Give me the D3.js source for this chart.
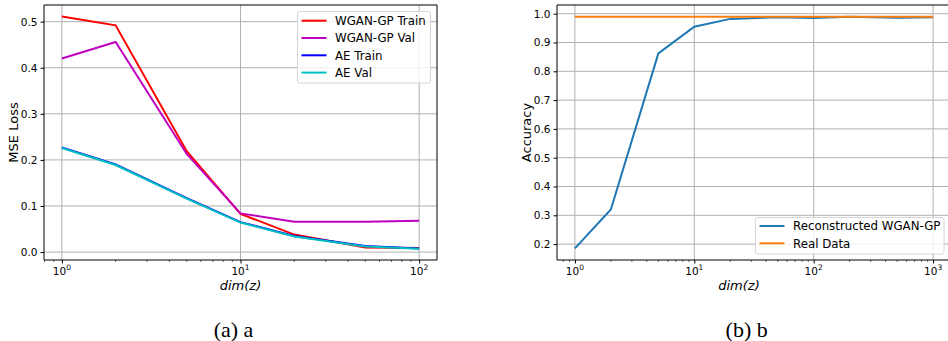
<!DOCTYPE html>
<html><head><meta charset="utf-8">
<script src="https://cdn.jsdelivr.net/npm/d3@7"></script>
<style>body{margin:0;background:#fff}svg{display:block}</style>
</head><body>
<svg id="c" width="948" height="341"></svg>
<script>
// Left panel data
const dimsA = [1, 2, 5, 10, 20, 50, 100];
const wganTrain = [0.511, 0.492, 0.219, 0.083, 0.038, 0.010, 0.009];
const wganVal = [0.420, 0.456, 0.213, 0.084, 0.066, 0.066, 0.068];
const aeTrain = [0.227, 0.190, 0.117, 0.065, 0.035, 0.013, 0.008];
const aeVal = [0.226, 0.189, 0.116, 0.064, 0.034, 0.012, 0.007];
const seriesNamesA = ["WGAN-GP Train", "WGAN-GP Val", "AE Train", "AE Val"];
const yTicksA = [0.0, 0.1, 0.2, 0.3, 0.4, 0.5];
const xTicksA = [1, 10, 100];
// Right panel data
const dimsB = [1, 2, 5, 10, 20, 50, 100, 200, 500, 1000];
const reconAcc = [0.185, 0.320, 0.862, 0.955, 0.982, 0.988, 0.985, 0.989, 0.986, 0.988];
const realAcc = [0.989, 0.989, 0.989, 0.989, 0.989, 0.989, 0.989, 0.989, 0.989, 0.989];
const seriesNamesB = ["Reconstructed WGAN-GP", "Real Data"];
const yTicksB = [0.2, 0.3, 0.4, 0.5, 0.6, 0.7, 0.8, 0.9, 1.0];
const xTicksB = [1, 10, 100, 1000];

const svg = d3.select("#c");
const font = "DejaVu Sans, sans-serif";
const gridCol = "#b0b0b0";

function panel(opts) {
  const {left, right, top, bottom, xDomain, yDomain, xTicks, yTicks, yLabel, clipRight, caption, capX} = opts;
  const x = d3.scaleLog().domain(xDomain).range([left, right]);
  const y = d3.scaleLinear().domain(yDomain).range([bottom, top]);
  const g = svg.append("g");
  const clipId = "clip" + Math.round(left);
  svg.append("clipPath").attr("id", clipId).append("rect")
    .attr("x", left).attr("y", top).attr("width", right - left).attr("height", bottom - top);
  // grid
  g.selectAll(".gx").data(xTicks).join("line")
    .attr("x1", d => x(d)).attr("x2", d => x(d)).attr("y1", top).attr("y2", bottom)
    .attr("stroke", gridCol).attr("stroke-width", 1);
  g.selectAll(".gy").data(yTicks).join("line")
    .attr("x1", left).attr("x2", right).attr("y1", d => y(d)).attr("y2", d => y(d))
    .attr("stroke", gridCol).attr("stroke-width", 1);
  // axes
  const yAxis = d3.axisLeft(y).tickValues(yTicks).tickFormat(d3.format(".1f")).tickSize(3.5).tickPadding(3);
  const ya = g.append("g").attr("transform", `translate(${left},0)`).call(yAxis);
  ya.select(".domain").remove();
  ya.selectAll("text").attr("font-family", font).attr("font-size", 10.5).attr("fill", "#000");
  // x minor ticks
  const minor = [];
  const lo = Math.floor(Math.log10(xDomain[0])), hi = Math.ceil(Math.log10(xDomain[1]));
  for (let e = lo; e <= hi; e++) for (let m = 2; m <= 9; m++) {
    const v = m * Math.pow(10, e);
    if (v >= xDomain[0] && v <= xDomain[1]) minor.push(v);
  }
  g.selectAll(".mn").data(minor).join("line")
    .attr("x1", d => x(d)).attr("x2", d => x(d)).attr("y1", bottom).attr("y2", bottom + 2)
    .attr("stroke", "#000").attr("stroke-width", 0.6);
  const xAxis = d3.axisBottom(x).tickValues(xTicks).tickFormat(() => "").tickSize(3.5);
  const xa = g.append("g").attr("transform", `translate(0,${bottom})`).call(xAxis);
  xa.select(".domain").remove();
  xTicks.forEach(t => {
    const tx = g.append("text").attr("x", x(t)).attr("y", bottom + 15)
      .attr("text-anchor", "middle").attr("font-family", font).attr("font-size", 10.5);
    tx.append("tspan").text("10");
    tx.append("tspan").attr("dy", -5).attr("font-size", 7.5).text(String(Math.round(Math.log10(t))));
  });
  // spines
  g.append("line").attr("x1", left).attr("x2", left).attr("y1", top).attr("y2", bottom).attr("stroke", "#000");
  g.append("line").attr("x1", left).attr("x2", right).attr("y1", top).attr("y2", top).attr("stroke", "#000");
  g.append("line").attr("x1", left).attr("x2", right).attr("y1", bottom).attr("y2", bottom).attr("stroke", "#000");
  if (!clipRight) g.append("line").attr("x1", right).attr("x2", right).attr("y1", top).attr("y2", bottom).attr("stroke", "#000");
  // labels
  g.append("text").attr("x", (left + right) / 2 + (clipRight ? -15 : 0)).attr("y", bottom + 30)
    .attr("text-anchor", "middle").attr("font-family", font).attr("font-size", 13)
    .attr("font-style", "italic").text("dim(z)");
  g.append("text").attr("transform", `translate(${left - 26},${(top + bottom) / 2}) rotate(-90)`)
    .attr("text-anchor", "middle").attr("font-family", font).attr("font-size", 13).text(yLabel);
  svg.append("text").attr("x", capX).attr("y", 337).attr("text-anchor", "middle")
    .attr("font-family", "Liberation Serif, Times New Roman, serif").attr("font-size", 22).text(caption);
  return {x, y, g, clipId};
}

// Left
const A = panel({left: 44, right: 437, top: 5, bottom: 260, xDomain: [Math.pow(10, -0.1), Math.pow(10, 2.1)],
  yDomain: [-0.0172, 0.5362], xTicks: xTicksA, yTicks: yTicksA, yLabel: "MSE Loss", clipRight: false,
  caption: "(a) a", capX: 233.5});
const colorsA = ["#ff0000", "#bf00bf", "#0000ff", "#00bfbf"];
const valsA = [wganTrain, wganVal, aeTrain, aeVal];
const lineA = d3.line().x((d, i) => A.x(dimsA[i])).y(d => A.y(d));
valsA.forEach((v, k) => {
  A.g.append("path").datum(v).attr("d", lineA).attr("fill", "none")
    .attr("stroke", colorsA[k]).attr("stroke-width", 2).attr("clip-path", `url(#${A.clipId})`);
});
// Legend A
const legA = svg.append("g");
legA.append("rect").attr("x", 297.5).attr("y", 11.5).attr("width", 133).attr("height", 71.5).attr("rx", 2)
  .attr("fill", "#fff").attr("fill-opacity", 0.8).attr("stroke", "#d6d6d6");
seriesNamesA.forEach((n, k) => {
  const yy = 20.7 + k * 17.3;
  legA.append("line").attr("x1", 301.5).attr("x2", 326.5).attr("y1", yy).attr("y2", yy)
    .attr("stroke", colorsA[k]).attr("stroke-width", 2);
  legA.append("text").attr("x", 335).attr("y", yy + 4.3).attr("font-family", font).attr("font-size", 11.8).text(n);
});

// Right
const B = panel({left: 557, right: 951, top: 5, bottom: 260, xDomain: [Math.pow(10, -0.15), Math.pow(10, 3.15)],
  yDomain: [0.1448, 1.0302], xTicks: xTicksB, yTicks: yTicksB, yLabel: "Accuracy", clipRight: true,
  caption: "(b) b", capX: 746.7});
const colorsB = ["#1f77b4", "#ff7f0e"];
const lineB = d3.line().x((d, i) => B.x(dimsB[i])).y(d => B.y(d));
[reconAcc, realAcc].forEach((v, k) => {
  B.g.append("path").datum(v).attr("d", lineB).attr("fill", "none")
    .attr("stroke", colorsB[k]).attr("stroke-width", 2).attr("clip-path", `url(#${B.clipId})`);
});
const legB = svg.append("g");
legB.append("rect").attr("x", 755.5).attr("y", 217.5).attr("width", 188.5).attr("height", 36.5).attr("rx", 2)
  .attr("fill", "#fff").attr("fill-opacity", 0.8).attr("stroke", "#d6d6d6");
seriesNamesB.forEach((n, k) => {
  const yy = 226 + k * 17.3;
  legB.append("line").attr("x1", 759.5).attr("x2", 784.5).attr("y1", yy).attr("y2", yy)
    .attr("stroke", colorsB[k]).attr("stroke-width", 2);
  legB.append("text").attr("x", 793).attr("y", yy + 4.3).attr("font-family", font).attr("font-size", 11.8).text(n);
});
</script>
</body></html>
